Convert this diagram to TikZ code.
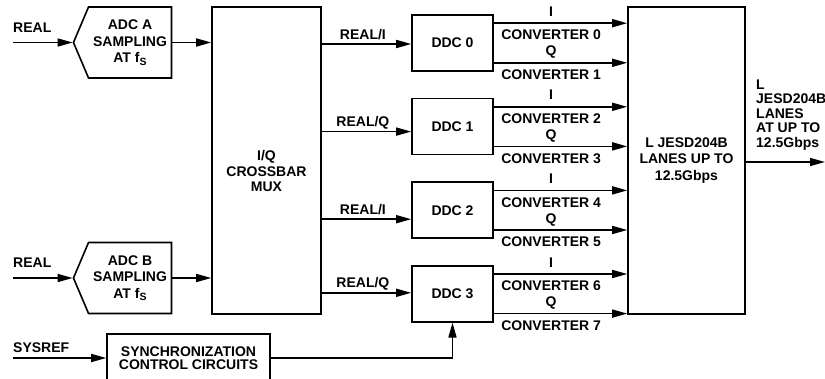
\documentclass[tikz,border=0pt]{standalone}
\usepackage{fontspec}
\setmainfont{Liberation Sans}
\usetikzlibrary{arrows.meta, positioning, shapes.symbols}

\newcommand{\fsub}{f\raisebox{-0.35ex}{\fontsize{10.5}{10.5}\selectfont S}}

\begin{document}
\begin{tikzpicture}[
  x=1pt, y=-1pt,
  font=\fontsize{14}{16.5}\selectfont\bfseries,
  node distance = 26pt,
  box/.style    = {rectangle, draw, line width=1.6pt, align=center, inner sep=0pt},
  ddcbox/.style = {box, minimum width=81pt, minimum height=56pt},
  adcbox/.style = {signal, signal to=west, signal from=nowhere,
                   signal pointer angle=134, draw, line width=1.6pt,
                   align=center, minimum width=98pt, minimum height=71pt,
                   inner sep=0pt},
  lab/.style    = {inner sep=0pt, text height=10pt, text depth=0pt},
  arr/.style    = {-{Triangle[length=15pt, width=8pt]}, line width=1.6pt},
]
\useasboundingbox (0,0) rectangle (825,379);

%% ── Blocks ──────────────────────────────────────────────────────────────
\node[box, minimum width=109pt, minimum height=307pt] (mux) at (266.5,160.5) {};
\node[align=center, inner sep=0pt, font=\fontsize{14}{15.5}\selectfont\bfseries]
     (muxtext) at (266.5,171) {I/Q\\CROSSBAR\\MUX};
\node[adcbox] (adcA) at (130,42.5) {ADC A\\SAMPLING\\AT \fsub};
\node[adcbox] (adcB) at (130,278)  {ADC B\\SAMPLING\\AT \fsub};
\node[ddcbox] (ddc0) at (452.5,43) {DDC 0};
\node[ddcbox, below=of ddc0] (ddc1) {DDC 1};
\node[ddcbox, below=of ddc1] (ddc2) {DDC 2};
\node[ddcbox, below=of ddc2] (ddc3) {DDC 3};
\node[box, minimum width=117pt, minimum height=307pt] (jesd) at (686.5,160.5)
     {L JESD204B\\LANES UP TO\\12.5Gbps};
\node[box, minimum width=163pt, minimum height=48pt,
      font=\fontsize{14}{13.5}\selectfont\bfseries] (sync) at (188.5,358)
     {SYNCHRONIZATION\\CONTROL CIRCUITS};

%% ── Inputs and output ───────────────────────────────────────────────────
\coordinate (inA) at (13,42.5);
\coordinate (inB) at (13,278);
\coordinate (inS) at (13,358);
\coordinate (out) at (825,162);
\node[lab, anchor=west] (realA)  at (13,28)  {REAL};
\node[lab, anchor=west] (realB)  at (13,263) {REAL};
\node[lab, anchor=west] (sysref) at (13,348) {SYSREF};
\node[align=left, anchor=west, inner sep=0pt,
      font=\fontsize{14}{14.5}\selectfont\bfseries] (outtext) at (756,115)
     {L\\JESD204B\\LANES\\AT UP TO\\12.5Gbps};

%% ── Connectors ──────────────────────────────────────────────────────────
\draw[arr] (inA) -- (adcA.west);
\draw[arr] (inB) -- (adcB.west);
\draw[arr] (inS) -- (sync.west);
\draw[arr] (adcA.east) -- (mux.west |- adcA.east);
\draw[arr] (adcB.east) -- (mux.west |- adcB.east);

\coordinate (d0) at ([yshift=-1pt]ddc0.west);
\coordinate (d1) at ([yshift=-5pt]ddc1.west);
\coordinate (d2) at ([yshift=-9pt]ddc2.west);
\coordinate (d3) at ([yshift=1pt]ddc3.west);
\draw[arr] (mux.east |- d0) -- node[lab, pos=0.46, above=4pt]{REAL/I} (d0);
\draw[arr] (mux.east |- d1) -- node[lab, pos=0.46, above=4pt]{REAL/Q} (d1);
\draw[arr] (mux.east |- d2) -- node[lab, pos=0.46, above=4pt]{REAL/I} (d2);
\draw[arr] (mux.east |- d3) -- node[lab, pos=0.46, above=4pt]{REAL/Q} (d3);

\foreach \k in {0,...,3} {
  \pgfmathtruncatemacro\ci{2*\k}
  \pgfmathtruncatemacro\cq{2*\k+1}
  \coordinate (i\k) at ([yshift=-9pt]ddc\k.north east);
  \coordinate (q\k) at ([yshift=9pt]ddc\k.south east);
  \draw[arr] (i\k) -- node[lab, pos=0.43, above=6pt]{I}
                      node[lab, pos=0.43, below=6pt]{CONVERTER \ci} (jesd.west |- i\k);
  \draw[arr] (q\k) -- node[lab, pos=0.43, above=6pt]{Q}
                      node[lab, pos=0.43, below=6pt]{CONVERTER \cq} (jesd.west |- q\k);
}

\draw[arr] (sync.east) -| (ddc3.south);
\draw[arr] (jesd.east |- out) -- (out);

\end{tikzpicture}
\end{document}
